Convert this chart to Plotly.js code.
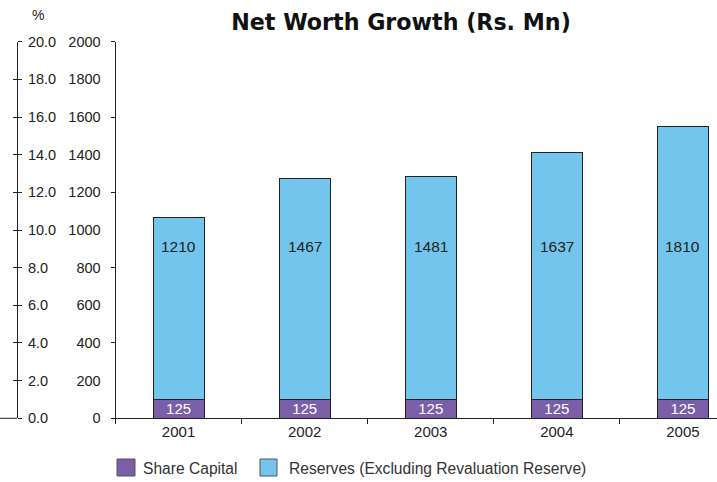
<!DOCTYPE html>
<html><head><meta charset="utf-8">
<script src="https://cdn.plot.ly/plotly-3.0.1.min.js"></script>
<style>html,body{margin:0;padding:0;background:#fff}#chart{width:717px;height:482px}</style>
</head><body><div id="chart"></div>
<script>
// Data
const years = ['2001', '2002', '2003', '2004', '2005'];
const shareCapital = [100, 100, 100, 100, 100];          // bar heights as drawn
const reserves = [969, 1175, 1185, 1313, 1451];          // bar heights as drawn
const shareCapitalLabels = ['125', '125', '125', '125', '125'];
const reservesLabels = ['1210', '1467', '1481', '1637', '1810'];
const leftTicks = [0, 200, 400, 600, 800, 1000, 1200, 1400, 1600, 1800, 2000];
const pctTicks = [0, 2, 4, 6, 8, 10, 12, 14, 16, 18, 20];

const W = 717, H = 482;
const purple = '#7A5FA8', blue = '#73C5EE', lineCol = '#222';
const fontFam = 'Liberation Sans, Arial, sans-serif';
const x0 = 115.5 / W;
const yDom = [63.7 / H, 1 - 41.7 / H];

const traces = [
  {type: 'bar', name: 'Share Capital', x: years, y: shareCapital, text: shareCapitalLabels,
   textposition: 'inside', insidetextanchor: 'middle', constraintext: 'none',
   textfont: {color: '#fff', size: 15, family: fontFam},
   marker: {color: purple, line: {color: lineCol, width: 1}}, hoverinfo: 'x+y', showlegend: false},
  {type: 'bar', name: 'Reserves (Excluding Revaluation Reserve)', x: years, y: reserves,
   textposition: 'none',
   marker: {color: blue, line: {color: lineCol, width: 1}}, hoverinfo: 'x+y', showlegend: false}
];

// reserves labels sit at a fixed height inside each bar (index-based x for the category axis)
const annotations = years.map((yr, i) => ({
  x: i, y: 912, xref: 'x', yref: 'y', text: reservesLabels[i], showarrow: false,
  font: {size: 15.5, color: '#222', family: fontFam}
}));
annotations.push({x: 30 / W, y: 1 - 15 / H, xref: 'paper', yref: 'paper', xanchor: 'left', yanchor: 'middle',
  text: '%', showarrow: false, font: {size: 14, color: '#222', family: fontFam}});
annotations.push({x: 141 / W, y: 1 - 468 / H, xref: 'paper', yref: 'paper', xanchor: 'left', yanchor: 'middle',
  text: 'Share Capital', showarrow: false, font: {size: 15.6, color: '#333', family: fontFam}});
annotations.push({x: 287 / W, y: 1 - 468 / H, xref: 'paper', yref: 'paper', xanchor: 'left', yanchor: 'middle',
  text: 'Reserves (Excluding Revaluation Reserve)', showarrow: false, font: {size: 15.6, color: '#333', family: fontFam}});

const shapes = [
  {type: 'rect', xref: 'paper', yref: 'paper', x0: 117 / W, x1: 135 / W, y0: 1 - 476 / H, y1: 1 - 459 / H,
   fillcolor: purple, line: {color: '#555', width: 1}},
  {type: 'rect', xref: 'paper', yref: 'paper', x0: 260 / W, x1: 277 / W, y0: 1 - 476 / H, y1: 1 - 459 / H,
   fillcolor: blue, line: {color: '#555', width: 1}},
  {type: 'line', xref: 'paper', yref: 'paper', x0: 0, x1: 17 / W, y0: yDom[0], y1: yDom[0],
   line: {color: lineCol, width: 1}}
];

const layout = {
  width: W, height: H,
  margin: {l: 0, r: 0, t: 0, b: 0},
  paper_bgcolor: '#fff', plot_bgcolor: '#fff',
  barmode: 'stack', bargap: 0.595,
  font: {family: fontFam, size: 14, color: '#222'},
  title: {text: '<b>Net Worth Growth (Rs. Mn)</b>', x: 401 / W, xanchor: 'center', xref: 'paper',
          y: 1 - 22 / H, yanchor: 'middle', yref: 'paper',
          font: {family: 'DejaVu Sans, sans-serif', size: 22.2, color: '#111'}},
  xaxis: {domain: [x0, 1], range: [-0.5, 4.27], type: 'category', showline: true, linecolor: lineCol,
          linewidth: 1, ticks: 'outside', ticklen: 5, tickcolor: lineCol, tickson: 'boundaries',
          showgrid: false, zeroline: false, tickfont: {size: 15, color: '#222'}},
  yaxis: {domain: yDom, range: [0, 2000], tickvals: leftTicks, ticktext: leftTicks.map(String),
          ticks: '', ticklabelstandoff: 11, showline: true, linecolor: lineCol, linewidth: 1,
          showgrid: false, zeroline: false, tickfont: {size: 14.5, color: '#222'}},
  yaxis3: {domain: yDom, overlaying: 'y', anchor: 'x', side: 'left', range: [0, 2000],
           tickvals: [0, 400, 800, 1200, 1600, 2000], ticks: 'outside', ticklen: 4, tickcolor: lineCol,
           showticklabels: false, showline: false, showgrid: false, zeroline: false},
  yaxis2: {domain: yDom, overlaying: 'y', anchor: 'free', position: 17 / W, side: 'right', range: [0, 20],
           tickvals: pctTicks, ticktext: pctTicks.map(v => v.toFixed(1)), ticks: 'outside', ticklen: 4,
           tickcolor: lineCol, showline: true, linecolor: lineCol, linewidth: 1, ticklabelstandoff: 3,
           showgrid: false, zeroline: false, tickfont: {size: 14.5, color: '#222'}},
  yaxis4: {domain: yDom, overlaying: 'y', anchor: 'free', position: 17 / W, side: 'right', range: [0, 20],
           tickvals: pctTicks, ticks: 'inside', ticklen: 4, tickcolor: lineCol,
           showticklabels: false, showline: false, showgrid: false, zeroline: false},
  annotations: annotations,
  shapes: shapes
};

// invisible helper traces to activate the extra axes
traces.push({type: 'scatter', x: [years[0]], y: [0], yaxis: 'y2', mode: 'markers', marker: {opacity: 0}, hoverinfo: 'skip', showlegend: false});
traces.push({type: 'scatter', x: [years[0]], y: [0], yaxis: 'y3', mode: 'markers', marker: {opacity: 0}, hoverinfo: 'skip', showlegend: false});
traces.push({type: 'scatter', x: [years[0]], y: [0], yaxis: 'y4', mode: 'markers', marker: {opacity: 0}, hoverinfo: 'skip', showlegend: false});

Plotly.newPlot('chart', traces, layout, {displayModeBar: false, staticPlot: true});
</script></body></html>
